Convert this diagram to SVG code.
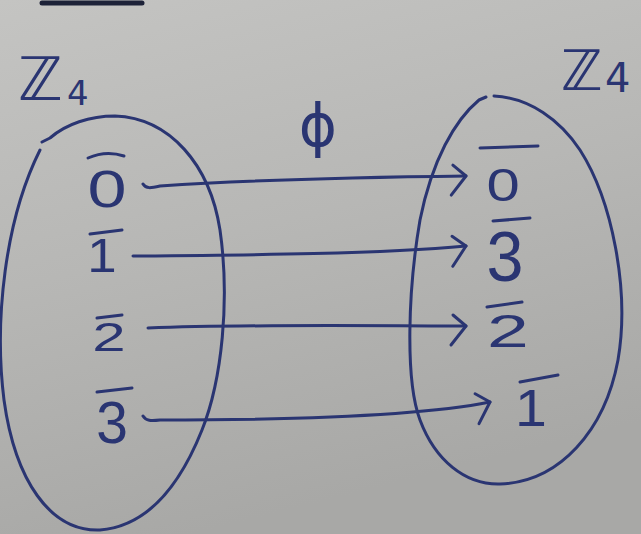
<svg xmlns="http://www.w3.org/2000/svg" width="641" height="534" viewBox="0 0 641 534">
  <defs>
    <linearGradient id="board" x1="0" y1="0" x2="0.3" y2="1">
      <stop offset="0" stop-color="#c4c4c2"/>
      <stop offset="0.5" stop-color="#b7b7b5"/>
      <stop offset="1" stop-color="#a8a8a6"/>
    </linearGradient>
    <marker id="head" viewBox="-20 -22 24 44" markerWidth="24" markerHeight="44" refX="0" refY="0" orient="auto" markerUnits="userSpaceOnUse">
      <path d="M -13,-11 L 0,0 L -15,19" fill="none" stroke="#2a3572" stroke-width="3" stroke-linecap="round" stroke-linejoin="round"/>
    </marker>
  </defs>
  <style>
    .ink { fill: none; stroke: #2a3572; stroke-width: 3; stroke-linecap: round; stroke-linejoin: round; }
    .num { fill: #2a3572; font-family: "Liberation Sans", "DejaVu Sans", sans-serif; text-anchor: middle; }
    .set { fill: #2a3572; font-family: "DejaVu Sans", "Liberation Sans", sans-serif; }
  </style>

  <rect width="641" height="534" fill="url(#board)"/>
  <path d="M 42,3 L 142,3" stroke="#1d2238" stroke-width="5" stroke-linecap="round"/>

  <!-- domain set -->
  <g id="set-left">
    <path class="ink" d="M 42,142 L 50,138 C 66,124 90,116 115,116 C 170,118 210,165 220,230 C 230,300 222,380 202,430 C 182,480 150,526 100,530 C 50,532 15,480 4,400 C -6,320 5,220 40,150"/>
    <text class="set" x="18" y="100" font-size="60">ℤ</text>
    <text class="set" x="67" y="105" font-size="34">4</text>
  </g>

  <!-- codomain set -->
  <g id="set-right">
    <path class="ink" d="M 486,97 L 479,100 C 455,120 432,160 420,220 C 408,290 405,380 420,420 C 435,460 465,485 500,484 C 560,482 605,430 618,360 C 630,290 612,200 580,150 C 560,120 530,98 494,96"/>
    <text class="set" x="561" y="90" font-size="56">ℤ</text>
    <text class="set" x="605" y="92" font-size="40">4</text>
  </g>

  <!-- map label -->
  <g id="label-phi">
    <text class="set" x="318" y="146" font-size="58" text-anchor="middle">ϕ</text>
  </g>

  <!-- domain elements -->
  <g id="src-0">
    <text class="num" transform="translate(107,207) scale(1.35,1)" font-size="52">0</text>
    <path class="ink" d="M 88,158 Q 106,150 124,156"/>
  </g>
  <g id="src-1">
    <text class="num" transform="translate(102,272) scale(1.1,1)" font-size="48">1</text>
    <path class="ink" d="M 90,234 L 122,230"/>
  </g>
  <g id="src-2">
    <text class="num" transform="translate(109,351) scale(1.5,1)" font-size="40">2</text>
    <path class="ink" d="M 97,318 L 122,315"/>
  </g>
  <g id="src-3">
    <text class="num" transform="translate(112,443) scale(0.95,1)" font-size="60">3</text>
    <path class="ink" d="M 97,392 L 132,388"/>
  </g>

  <!-- codomain elements -->
  <g id="dst-0">
    <text class="num" transform="translate(503,201) scale(1.3,1)" font-size="46">0</text>
    <path class="ink" d="M 480,148 L 538,146"/>
  </g>
  <g id="dst-3">
    <text class="num" transform="translate(505,281) scale(0.95,1)" font-size="70">3</text>
    <path class="ink" d="M 493,221 L 530,218"/>
  </g>
  <g id="dst-2">
    <text class="num" transform="translate(508,347) scale(1.6,1)" font-size="47">2</text>
    <path class="ink" d="M 487,307 L 522,302"/>
  </g>
  <g id="dst-1">
    <text class="num" transform="translate(531,426) scale(1.1,1)" font-size="52">1</text>
    <path class="ink" d="M 520,382 L 558,375"/>
  </g>

  <!-- mapping arrows -->
  <g id="connectors">
    <path class="ink" marker-end="url(#head)" d="M 143,184 C 146,189 151,188 160,186 C 250,180 380,177 466,176"/>
    <path class="ink" marker-end="url(#head)" d="M 133,256 C 250,255 380,254 466,246"/>
    <path class="ink" marker-end="url(#head)" d="M 148,328 C 250,324 380,326 466,326"/>
    <path class="ink" marker-end="url(#head)" d="M 143,416 C 146,421 151,421 160,420 C 300,420 420,416 490,402"/>
  </g>
</svg>
